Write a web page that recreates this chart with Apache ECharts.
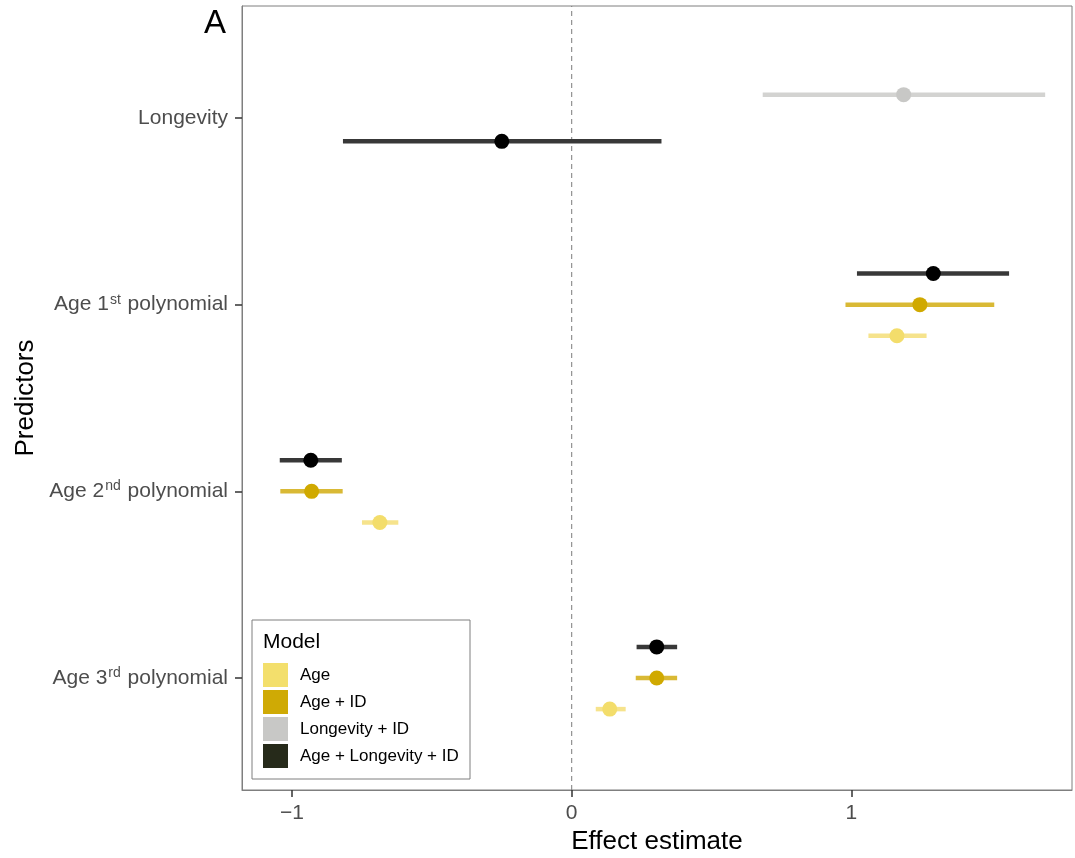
<!DOCTYPE html>
<html>
<head>
<meta charset="utf-8">
<script src="https://cdn.jsdelivr.net/npm/echarts@6/dist/echarts.min.js"></script>
<style>
  html, body { margin: 0; padding: 0; background: #fff; }
  #chart { width: 1075px; height: 858px; }
</style>
</head>
<body>
<div id="chart"></div>
<script>
// Predictors, listed top to bottom
const predictors = ['Longevity', 'Age 1st polynomial', 'Age 2nd polynomial', 'Age 3rd polynomial'];
// Models, in legend order
const models = ['Age', 'Age + ID', 'Longevity + ID', 'Age + Longevity + ID'];
// Dodge order within a predictor, bottom to top
const dodgeOrder = ['Age', 'Age + ID', 'Age + Longevity + ID', 'Longevity + ID'];

// Effect estimates and interval bounds, one entry per predictor (null = not in model)
const estAge   = [null, 1.163, -0.686, 0.136];
const lowAge   = [null, 1.061, -0.750, 0.086];
const highAge  = [null, 1.269, -0.620, 0.193];

const estAgeId  = [null, 1.245, -0.930, 0.304];
const lowAgeId  = [null, 0.979, -1.042, 0.229];
const highAgeId = [null, 1.511, -0.819, 0.377];

const estLongId  = [1.187, null, null, null];
const lowLongId  = [0.683, null, null, null];
const highLongId = [1.693, null, null, null];

const estFull  = [-0.250, 1.293, -0.933, 0.304];
const lowFull  = [-0.818, 1.020, -1.044, 0.232];
const highFull = [0.321, 1.564, -0.822, 0.377];

const xTicks = [-1, 0, 1];

// Styling
const keyColors   = ['#F3DF6C', '#CFAA05', '#C8C8C6', '#262A1A'];
const pointColors = ['#F3DD6B', '#D0A900', '#C8C8C6', '#000000'];
const barColors   = ['#F6E38C', '#D9B935', '#D3D3D1', '#383838'];

const estimates = [estAge, estAgeId, estLongId, estFull];
const lows = [lowAge, lowAgeId, lowLongId, lowFull];
const highs = [highAge, highAgeId, highLongId, highFull];

// Dodge: spread the models present for each predictor over a width of 0.5
const dodgeWidth = 0.5;
function yPos(p, m) {
  const present = dodgeOrder
    .map(n => models.indexOf(n))
    .filter(k => estimates[k][p] != null);
  const n = present.length;
  const i = present.indexOf(m);
  const base = predictors.length - p;
  return base + (i - (n - 1) / 2) * (dodgeWidth / n);
}

const series = [];

// Reference line at zero
series.push({
  name: 'zero',
  type: 'line',
  data: [[0, 0.4], [0, 4.6]],
  symbol: 'none',
  silent: true,
  lineStyle: { color: '#7A7A7A', width: 1, type: [5, 4] },
  z: 1
});

models.forEach((name, m) => {
  const barData = [];
  const ptData = [];
  predictors.forEach((_, p) => {
    if (estimates[m][p] == null) return;
    const y = yPos(p, m);
    barData.push([lows[m][p], highs[m][p], y]);
    ptData.push([estimates[m][p], y]);
  });
  series.push({
    name: name,
    type: 'custom',
    data: barData,
    encode: { x: [0, 1], y: 2 },
    itemStyle: { color: keyColors[m] },
    z: 2,
    renderItem: function (params, api) {
      const a = api.coord([api.value(0), api.value(2)]);
      const b = api.coord([api.value(1), api.value(2)]);
      return {
        type: 'line',
        shape: { x1: a[0], y1: a[1], x2: b[0], y2: b[1] },
        style: { stroke: barColors[m], lineWidth: 4.5 }
      };
    }
  });
  series.push({
    name: name,
    type: 'scatter',
    data: ptData,
    symbol: 'circle',
    symbolSize: 15,
    itemStyle: { color: pointColors[m], opacity: 1 },
    z: 3
  });
});

const chart = echarts.init(document.getElementById('chart'), null, { renderer: 'canvas' });
const FONT = 'Liberation Sans, Arial, sans-serif';

chart.setOption({
  animation: false,
  textStyle: { fontFamily: FONT },
  grid: {
    left: 242, right: 3, top: 6, bottom: 68,
    containLabel: false,
    outerBoundsMode: 'none',
    show: true, borderColor: '#7F7F7F', borderWidth: 1, backgroundColor: 'transparent'
  },
  xAxis: {
    type: 'value',
    min: -1.179, max: 1.789,
    name: 'Effect estimate',
    nameLocation: 'middle',
    nameGap: 37,
    nameTextStyle: { fontSize: 26, color: '#000', fontFamily: FONT },
    axisLine: { show: true, onZero: false, lineStyle: { color: '#7F7F7F', width: 1 } },
    axisTick: { show: true, length: 7, customValues: xTicks, lineStyle: { color: '#333', width: 1.5 } },
    axisLabel: {
      customValues: xTicks,
      margin: 13,
      fontSize: 21,
      color: '#4D4D4D',
      fontFamily: FONT,
      formatter: v => (v < 0 ? '\u2212' + Math.abs(v) : String(v))
    },
    splitLine: { show: false }
  },
  yAxis: {
    type: 'value',
    min: 0.4, max: 4.6,
    name: 'Predictors',
    nameLocation: 'middle',
    nameGap: 202,
    nameRotate: 90,
    nameTextStyle: { fontSize: 26, color: '#000', fontFamily: FONT },
    axisLine: { show: true, onZero: false, lineStyle: { color: '#7F7F7F', width: 1 } },
    axisTick: { show: true, length: 7, customValues: [1, 2, 3, 4], lineStyle: { color: '#333', width: 1.5 } },
    axisLabel: {
      customValues: [1, 2, 3, 4],
      margin: 14,
      fontSize: 21,
      lineHeight: 24,
      color: '#4D4D4D',
      fontFamily: FONT,
      formatter: function (v) {
        const label = predictors[predictors.length - Math.round(v)];
        return label.replace(/(\d)(st|nd|rd)\b/, '$1{sup|$2}');
      },
      rich: {
        sup: { fontSize: 14, color: '#4D4D4D', fontFamily: FONT, verticalAlign: 'top', lineHeight: 14, padding: [0, 1, 0, 1] }
      }
    },
    splitLine: { show: false }
  },
  legend: {
    orient: 'vertical',
    left: 263,
    top: 663,
    padding: 0,
    z: 20,
    itemWidth: 25,
    itemHeight: 24,
    itemGap: 3,
    icon: 'rect',
    selectedMode: false,
    textStyle: { fontSize: 17, color: '#000', fontFamily: FONT, padding: [0, 0, 0, 7] },
    data: models.map((name, m) => ({ name: name, itemStyle: { color: keyColors[m], borderWidth: 0 } }))
  },
  graphic: [
    {
      type: 'rect',
      shape: { x: 252, y: 620, width: 218, height: 159 },
      style: { fill: '#fff', stroke: '#7F7F7F', lineWidth: 1 },
      z: 0
    },
    {
      type: 'text',
      left: 263, top: 632,
      style: { text: 'Model', fontSize: 21, fill: '#000', fontFamily: FONT },
      z: 6
    },
    {
      type: 'text',
      left: 204, top: 7,
      style: { text: 'A', fontSize: 33, fill: '#000', fontFamily: FONT },
      z: 6
    }
  ],
  series: series
});
</script>
</body>
</html>
